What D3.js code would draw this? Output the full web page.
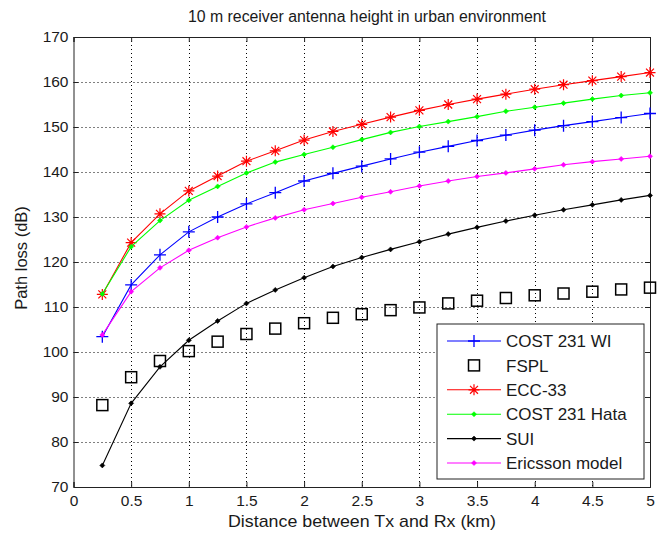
<!DOCTYPE html>
<html>
<head>
<meta charset="utf-8">
<script src="https://cdn.jsdelivr.net/npm/d3@7"></script>
<style>
  body { margin: 0; background: #fff; }
  svg text { font-family: "Liberation Sans", Arial, sans-serif; fill: #1a1a1a; }
</style>
</head>
<body>
<svg id="chart"></svg>
<script>
var width = 661;
var height = 533;
var margin = {top: 37, right: 11, bottom: 46, left: 73.5};

// distances (km) at which every model was evaluated
var distKm = [0.25, 0.5, 0.75, 1, 1.25, 1.5, 1.75, 2, 2.25, 2.5, 2.75, 3, 3.25, 3.5, 3.75, 4, 4.25, 4.5, 4.75, 5];

// path loss values (dB)
var cost231Wi = [103.4, 114.9, 121.6, 126.7, 130.0, 132.9, 135.4, 138.0, 139.7, 141.3, 142.9, 144.4, 145.7, 147.0, 148.2, 149.3, 150.3, 151.2, 152.1, 153.0];
var fspl      = [88.2, 94.4, 98.0, 100.2, 102.3, 104.0, 105.2, 106.4, 107.6, 108.4, 109.3, 109.9, 110.8, 111.4, 112.0, 112.6, 113.0, 113.4, 113.9, 114.3];
var ecc33     = [112.8, 124.3, 130.7, 135.8, 139.1, 142.4, 144.7, 147.1, 149.0, 150.6, 152.2, 153.7, 155.0, 156.2, 157.3, 158.4, 159.4, 160.3, 161.2, 162.1];
var cost231Hata = [112.9, 123.4, 129.2, 133.7, 136.8, 139.8, 142.2, 143.9, 145.5, 147.2, 148.8, 150.1, 151.2, 152.3, 153.5, 154.4, 155.3, 156.2, 157.0, 157.6];
var sui       = [74.8, 88.6, 96.7, 102.6, 106.9, 110.8, 113.8, 116.5, 119.0, 121.0, 122.8, 124.5, 126.2, 127.7, 129.1, 130.4, 131.6, 132.7, 133.8, 134.8];
var ericsson  = [103.8, 113.4, 118.7, 122.6, 125.4, 127.8, 129.8, 131.6, 133.0, 134.4, 135.6, 136.9, 138.0, 139.0, 139.8, 140.7, 141.6, 142.3, 142.9, 143.5];

var xTicks = [0, 0.5, 1, 1.5, 2, 2.5, 3, 3.5, 4, 4.5, 5];
var yTicks = [70, 80, 90, 100, 110, 120, 130, 140, 150, 160, 170];

var series = [
    {name: "COST 231 WI", values: cost231Wi, color: "#0000ff", marker: "plus", line: true},
    {name: "FSPL", values: fspl, color: "#000000", marker: "square", line: false},
    {name: "ECC-33", values: ecc33, color: "#ff0000", marker: "star", line: true},
    {name: "COST 231 Hata", values: cost231Hata, color: "#00ff00", marker: "dot", line: true},
    {name: "SUI", values: sui, color: "#000000", marker: "dot", line: true},
    {name: "Ericsson model", values: ericsson, color: "#ff00ff", marker: "dot", line: true}
];

var svg = d3.select("#chart")
    .attr("width", width)
    .attr("height", height);

var x = d3.scaleLinear().domain([0, 5]).range([margin.left, width - margin.right]);
var y = d3.scaleLinear().domain([70, 170]).range([height - margin.bottom, margin.top]);

// dotted grid
var grid = svg.append("g")
    .attr("stroke", "#000")
    .attr("stroke-width", 1)
    .attr("stroke-dasharray", "1,3");
grid.selectAll(".gx")
    .data(xTicks.slice(1, -1))
    .join("line")
    .attr("x1", d => Math.round(x(d)) + 0.5).attr("x2", d => Math.round(x(d)) + 0.5)
    .attr("y1", y(170)).attr("y2", y(70));
grid.selectAll(".gy")
    .data(yTicks.slice(1, -1))
    .join("line")
    .attr("y1", d => Math.round(y(d)) + 0.5).attr("y2", d => Math.round(y(d)) + 0.5)
    .attr("x1", x(0)).attr("x2", x(5));

// axes, ticks pointing inwards on all four sides
var fmt = d => d;
svg.append("g")
    .attr("transform", "translate(0," + y(70) + ")")
    .call(d3.axisBottom(x).tickValues(xTicks).tickFormat(fmt).tickSize(-5).tickPadding(8));
svg.append("g")
    .attr("transform", "translate(0," + y(170) + ")")
    .call(d3.axisTop(x).tickValues(xTicks).tickFormat("").tickSize(-5));
svg.append("g")
    .attr("transform", "translate(" + x(0) + ",0)")
    .call(d3.axisLeft(y).tickValues(yTicks).tickFormat(fmt).tickSize(-5).tickPadding(5));
svg.append("g")
    .attr("transform", "translate(" + x(5) + ",0)")
    .call(d3.axisRight(y).tickValues(yTicks).tickFormat("").tickSize(-5));

svg.selectAll(".domain").attr("stroke", "#222");
svg.selectAll(".tick line").attr("stroke", "#222");
svg.selectAll(".tick text").attr("font-size", 15.5).attr("fill", "#1a1a1a");

// marker drawing
function drawMarker(g, type, color, size) {
    var s = size / 2;
    if (type === "plus") {
        g.append("path")
            .attr("d", "M" + (-s) + ",0H" + s + "M0," + (-s) + "V" + s)
            .attr("stroke", color).attr("stroke-width", 1.3).attr("fill", "none");
    } else if (type === "star") {
        var d = s * 0.72;
        g.append("path")
            .attr("d", "M" + (-s) + ",0H" + s + "M0," + (-s) + "V" + s +
                "M" + (-d) + "," + (-d) + "L" + d + "," + d + "M" + (-d) + "," + d + "L" + d + "," + (-d))
            .attr("stroke", color).attr("stroke-width", 1.2).attr("fill", "none");
    } else if (type === "square") {
        g.append("rect")
            .attr("x", -s).attr("y", -s).attr("width", size).attr("height", size)
            .attr("stroke", color).attr("stroke-width", 1.5).attr("fill", "none");
    } else {
        g.append("path")
            .attr("d", "M0," + (-s) + "L" + s + ",0L0," + s + "L" + (-s) + ",0Z")
            .attr("fill", color).attr("stroke", color).attr("stroke-width", 0.6);
    }
}
var markerSize = {plus: 12, star: 11, square: 11, dot: 5};

var line = d3.line()
    .x((d, i) => x(distKm[i]))
    .y(d => y(d));

var plot = svg.append("g");
series.forEach(function (s) {
    var g = plot.append("g");
    if (s.line) {
        g.append("path")
            .attr("d", line(s.values))
            .attr("fill", "none")
            .attr("stroke", s.color)
            .attr("stroke-width", 1.1);
    }
    s.values.forEach(function (v, i) {
        var m = g.append("g").attr("transform", "translate(" + x(distKm[i]) + "," + y(v) + ")");
        drawMarker(m, s.marker, s.color, markerSize[s.marker]);
    });
});

// legend
var legend = svg.append("g").attr("transform", "translate(437,324)");
legend.append("rect")
    .attr("width", 207).attr("height", 155)
    .attr("fill", "#fff").attr("stroke", "#222").attr("stroke-width", 1);
series.forEach(function (s, i) {
    var ly = 17 + i * 24.4;
    var row = legend.append("g").attr("transform", "translate(0," + ly + ")");
    if (s.line) {
        row.append("line")
            .attr("x1", 10).attr("x2", 64).attr("y1", 0).attr("y2", 0)
            .attr("stroke", s.color).attr("stroke-width", 1.1);
    }
    drawMarker(row.append("g").attr("transform", "translate(37,0)"), s.marker, s.color, markerSize[s.marker]);
    row.append("text")
        .attr("x", 69).attr("y", 0).attr("dy", "0.36em")
        .attr("font-size", 17)
        .text(s.name);
});

// titles
svg.append("text")
    .attr("x", 367).attr("y", 22)
    .attr("text-anchor", "middle")
    .attr("font-size", 16)
    .attr("textLength", 358)
    .attr("lengthAdjust", "spacingAndGlyphs")
    .text("10 m receiver antenna height in urban environment");
svg.append("text")
    .attr("x", 362).attr("y", 527)
    .attr("text-anchor", "middle")
    .attr("font-size", 17)
    .attr("textLength", 268)
    .attr("lengthAdjust", "spacingAndGlyphs")
    .text("Distance between Tx and Rx (km)");
svg.append("text")
    .attr("transform", "translate(27,258) rotate(-90)")
    .attr("text-anchor", "middle")
    .attr("font-size", 16.5)
    .text("Path loss (dB)");
</script>
</body>
</html>
